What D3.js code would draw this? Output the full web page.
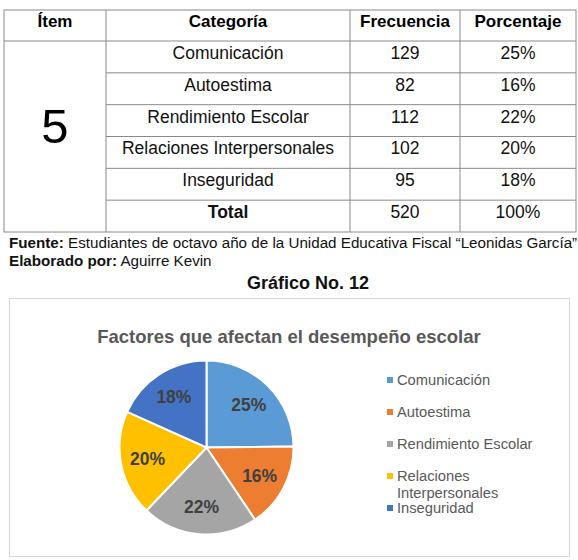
<!DOCTYPE html>
<html>
<head>
<meta charset="utf-8">
<script src="https://cdn.jsdelivr.net/npm/d3@7"></script>
<style>
  body { margin: 0; background: #fff; }
  svg { display: block; font-family: "Liberation Sans", Arial, sans-serif; }
</style>
</head>
<body>
<script>
const item = '5'
const headers = ['Ítem', 'Categoría', 'Frecuencia', 'Porcentaje']
const categorias = ['Comunicación', 'Autoestima', 'Rendimiento Escolar', 'Relaciones Interpersonales', 'Inseguridad']
const frecuencias = [129, 82, 112, 102, 95]
const porcentajes = ['25%', '16%', '22%', '20%', '18%']
const totalRow = ['Total', '520', '100%']
const legendLabels = [['Comunicación'], ['Autoestima'], ['Rendimiento Escolar'], ['Relaciones', 'Interpersonales'], ['Inseguridad']]
const colores = ['#5b9bd5', '#ed7d31', '#a5a5a5', '#ffc000', '#4472c4']

const svg = d3.select('body')
    .append('svg')
    .attr('width', 578)
    .attr('height', 560)

// ---- tabla ----
const colX = [4, 106, 350, 460, 576]
const rowKeys = categorias.concat(['Total'])
const y = d3.scaleBand().domain(rowKeys).range([41, 232])
const lineCol = '#8a8a8a'
const tabla = svg.append('g')

tabla.append('rect')
    .attr('x', colX[0]).attr('y', 10)
    .attr('width', colX[4] - colX[0]).attr('height', 232 - 10)
    .attr('fill', 'none').attr('stroke', lineCol)

colX.slice(1, 4).forEach(x => {
    tabla.append('line')
        .attr('x1', x).attr('x2', x).attr('y1', 10).attr('y2', 232)
        .attr('stroke', lineCol)
})
tabla.append('line')
    .attr('x1', colX[0]).attr('x2', colX[4]).attr('y1', 41).attr('y2', 41)
    .attr('stroke', lineCol)
tabla.selectAll('.hline')
    .data(rowKeys.slice(1))
    .join('line')
    .attr('x1', colX[1]).attr('x2', colX[4])
    .attr('y1', d => y(d)).attr('y2', d => y(d))
    .attr('stroke', lineCol)

tabla.selectAll('.head')
    .data(headers)
    .join('text')
    .attr('x', (d, i) => (colX[i] + colX[i + 1]) / 2)
    .attr('y', 27)
    .attr('text-anchor', 'middle')
    .attr('font-weight', 'bold')
    .attr('font-size', 17)
    .text(d => d)

tabla.append('text')
    .attr('x', (colX[0] + colX[1]) / 2)
    .attr('y', 143)
    .attr('text-anchor', 'middle')
    .attr('font-size', 49)
    .text(item)

const filas = categorias.map((c, i) => [c, String(frecuencias[i]), porcentajes[i]])
filas.push(totalRow)
filas.forEach((fila, r) => {
    tabla.selectAll('.f' + r)
        .data(fila)
        .join('text')
        .attr('x', (d, i) => (colX[i + 1] + colX[i + 2]) / 2)
        .attr('y', y(rowKeys[r]) + y.bandwidth() / 2 + 2)
        .attr('text-anchor', 'middle')
        .attr('font-size', 17.5)
        .attr('font-weight', (d, i) => r === 5 && i === 0 ? 'bold' : 'normal')
        .attr('fill', '#111')
        .text(d => d)
})

// ---- notas ----
const nota1 = svg.append('text').attr('x', 9).attr('y', 248).attr('font-size', 15.2).attr('fill', '#111')
nota1.append('tspan').attr('font-weight', 'bold').text('Fuente:')
nota1.append('tspan').text(' Estudiantes de octavo año de la Unidad Educativa Fiscal “Leonidas García”')
const nota2 = svg.append('text').attr('x', 9).attr('y', 266).attr('font-size', 15.2).attr('fill', '#111')
nota2.append('tspan').attr('font-weight', 'bold').text('Elaborado por:')
nota2.append('tspan').text(' Aguirre Kevin')

svg.append('text')
    .attr('x', 308).attr('y', 289)
    .attr('text-anchor', 'middle')
    .attr('font-weight', 'bold')
    .attr('font-size', 18)
    .attr('fill', '#111')
    .text('Gráfico No. 12')

// ---- grafico ----
svg.append('rect')
    .attr('x', 9.5).attr('y', 298.5)
    .attr('width', 560).attr('height', 258)
    .attr('fill', '#fff').attr('stroke', '#d9d9d9')

svg.append('text')
    .attr('x', 289).attr('y', 343)
    .attr('text-anchor', 'middle')
    .attr('font-weight', 'bold')
    .attr('font-size', 18.5)
    .attr('fill', '#595959')
    .text('Factores que afectan el desempeño escolar')

const radio = 87
const pie = d3.pie().sort(null)
const arc = d3.arc().innerRadius(0).outerRadius(radio)
const labelArc = d3.arc().innerRadius(radio * 0.69).outerRadius(radio * 0.69)
const g = svg.append('g').attr('transform', 'translate(206.5, 447.5)')
const arcs = pie(frecuencias)

g.selectAll('path')
    .data(arcs)
    .join('path')
    .attr('d', arc)
    .attr('fill', (d, i) => colores[i])
    .attr('stroke', '#fff')
    .attr('stroke-width', 2)

g.selectAll('.lbl')
    .data(arcs)
    .join('text')
    .attr('transform', d => 'translate(' + labelArc.centroid(d) + ')')
    .attr('text-anchor', 'middle')
    .attr('dy', '0.35em')
    .attr('font-weight', 'bold')
    .attr('font-size', 17.5)
    .attr('fill', '#404040')
    .text(d => Math.round(d.value / d3.sum(frecuencias) * 100) + '%')

const leg = svg.append('g')
    .selectAll('g')
    .data(legendLabels)
    .join('g')
    .attr('transform', (d, i) => 'translate(387, ' + (380 + i * 32) + ')')

leg.append('rect')
    .attr('x', 0).attr('y', -3)
    .attr('width', 6).attr('height', 6)
    .attr('fill', (d, i) => colores[i])

leg.selectAll('text')
    .data(d => d)
    .join('text')
    .attr('x', 10)
    .attr('y', (d, j) => j * 17)
    .attr('dy', '0.35em')
    .attr('font-size', 14.7)
    .attr('fill', '#595959')
    .text(d => d)
</script>
</body>
</html>
